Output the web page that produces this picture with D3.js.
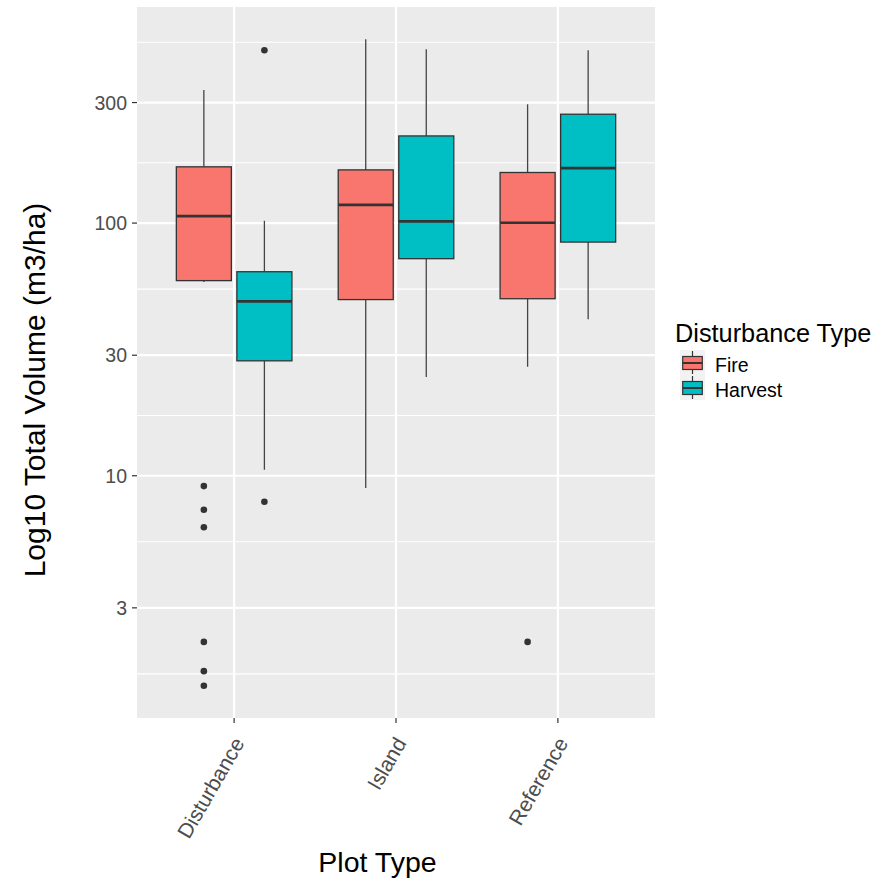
<!DOCTYPE html>
<html>
<head>
<meta charset="utf-8">
<script src="https://cdn.jsdelivr.net/npm/d3@7"></script>
<style>
  html, body { margin: 0; padding: 0; background: #fff; }
  svg { display: block; font-family: "Liberation Sans", Arial, Helvetica, sans-serif; }
</style>
</head>
<body>
<svg id="chart" width="884" height="886"></svg>
<script>
// Categories and groups
const plotTypes = ["Disturbance", "Island", "Reference"];
const disturbanceTypes = ["Fire", "Harvest"];
const groupColors = ["#F8766D", "#00BFC4"];

// Box statistics per plot type: [lower whisker, Q1, median, Q3, upper whisker]
const fireStats = [
  [58.4, 59.2, 106.6, 167.0, 336.5],
  [8.94, 49.8, 118.1, 162.4, 533.8],
  [27.0, 50.2, 100.3, 158.6, 295.3]
];
const harvestStats = [
  [10.56, 28.5, 49.0, 64.2, 102.1],
  [24.6, 72.3, 101.6, 221.3, 487.3],
  [41.6, 84.1, 165.0, 269.7, 483.0]
];

// Outlying observations per plot type
const fireOutliers = [
  [9.1, 7.34, 6.25, 2.2, 1.685, 1.476],
  [],
  [2.2]
];
const harvestOutliers = [
  [483, 7.89],
  [],
  []
];

// Axis breaks
const yTicks = [3, 10, 30, 100, 300];

const svg = d3.select("#chart");
const panel = { left: 137, right: 655, top: 7, bottom: 718 };

// Gather all values to set the log-scale extent (5% padding in log space)
const allVals = [];
[fireStats, harvestStats].forEach(s => s.forEach(r => allVals.push(...r)));
[fireOutliers, harvestOutliers].forEach(s => s.forEach(r => allVals.push(...r)));
const lmin = Math.log10(d3.min(allVals)), lmax = Math.log10(d3.max(allVals));
const pad = (lmax - lmin) * 0.05;
const y = d3.scaleLog()
  .domain([Math.pow(10, lmin - pad), Math.pow(10, lmax + pad)])
  .range([panel.bottom, panel.top]);

// Discrete x positions 1..n with 0.6 expansion on each side
const x = d3.scaleLinear()
  .domain([0.4, plotTypes.length + 0.6])
  .range([panel.left, panel.right]);

const dodge = 0.187;   // group offset from category centre
const boxW = 0.34;     // box width in category units

// Panel background
svg.append("rect")
  .attr("x", panel.left).attr("y", panel.top)
  .attr("width", panel.right - panel.left).attr("height", panel.bottom - panel.top)
  .attr("fill", "#EBEBEB");

// Minor grid: midpoints between major breaks in log space, extended by one step
const lt = yTicks.map(Math.log10);
const minorL = [];
for (let i = 0; i < lt.length - 1; i++) minorL.push((lt[i] + lt[i + 1]) / 2);
minorL.unshift(lt[0] - (lt[1] - lt[0]) / 2);
minorL.push(lt[lt.length - 1] + (lt[lt.length - 1] - lt[lt.length - 2]) / 2);
const grid = svg.append("g");
minorL.map(v => Math.pow(10, v))
  .filter(v => y(v) >= panel.top && y(v) <= panel.bottom)
  .forEach(v => {
    grid.append("line")
      .attr("x1", panel.left).attr("x2", panel.right)
      .attr("y1", y(v)).attr("y2", y(v))
      .attr("stroke", "#fff").attr("stroke-width", 1.1);
  });
yTicks.forEach(v => {
  grid.append("line")
    .attr("x1", panel.left).attr("x2", panel.right)
    .attr("y1", y(v)).attr("y2", y(v))
    .attr("stroke", "#fff").attr("stroke-width", 2.2);
});
plotTypes.forEach((p, i) => {
  grid.append("line")
    .attr("x1", x(i + 1)).attr("x2", x(i + 1))
    .attr("y1", panel.top).attr("y2", panel.bottom)
    .attr("stroke", "#fff").attr("stroke-width", 2.2);
});

// Boxplots
const boxes = svg.append("g");
const groups = [
  { stats: fireStats, outliers: fireOutliers, color: groupColors[0], off: -dodge },
  { stats: harvestStats, outliers: harvestOutliers, color: groupColors[1], off: dodge }
];
groups.forEach(g => {
  g.stats.forEach((s, i) => {
    const cx = x(i + 1 + g.off);
    const x0 = x(i + 1 + g.off - boxW / 2), x1 = x(i + 1 + g.off + boxW / 2);
    const [lo, q1, med, q3, hi] = s;
    // whiskers
    boxes.append("line")
      .attr("x1", cx).attr("x2", cx).attr("y1", y(q3)).attr("y2", y(hi))
      .attr("stroke", "#444").attr("stroke-width", 1.3);
    boxes.append("line")
      .attr("x1", cx).attr("x2", cx).attr("y1", y(q1)).attr("y2", y(lo))
      .attr("stroke", "#444").attr("stroke-width", 1.3);
    // box
    boxes.append("rect")
      .attr("x", x0).attr("y", y(q3))
      .attr("width", x1 - x0).attr("height", y(q1) - y(q3))
      .attr("fill", g.color).attr("stroke", "#333").attr("stroke-width", 1.3);
    // median
    boxes.append("line")
      .attr("x1", x0).attr("x2", x1).attr("y1", y(med)).attr("y2", y(med))
      .attr("stroke", "#333").attr("stroke-width", 2.6);
    // outliers
    g.outliers[i].forEach(v => {
      boxes.append("circle")
        .attr("cx", cx).attr("cy", y(v)).attr("r", 3.3)
        .attr("fill", "#333");
    });
  });
});

// Y axis ticks and labels
const yAxis = svg.append("g");
yTicks.forEach(v => {
  yAxis.append("line")
    .attr("x1", panel.left - 5).attr("x2", panel.left)
    .attr("y1", y(v)).attr("y2", y(v))
    .attr("stroke", "#333").attr("stroke-width", 1.2);
  yAxis.append("text")
    .attr("x", panel.left - 10).attr("y", y(v))
    .attr("dy", "0.36em")
    .attr("text-anchor", "end")
    .attr("font-size", 19.5).attr("fill", "#4D4D4D")
    .text(d3.format("d")(v));
});

// X axis ticks and rotated labels
const xAxis = svg.append("g");
plotTypes.forEach((p, i) => {
  const px = x(i + 1);
  xAxis.append("line")
    .attr("x1", px).attr("x2", px)
    .attr("y1", panel.bottom).attr("y2", panel.bottom + 5)
    .attr("stroke", "#333").attr("stroke-width", 1.2);
  xAxis.append("text")
    .attr("transform", `translate(${px + 11},${panel.bottom + 25}) rotate(-60)`)
    .attr("text-anchor", "end")
    .attr("font-size", 21).attr("fill", "#4D4D4D")
    .text(p);
});

// Axis titles
svg.append("text")
  .attr("transform", "translate(45,390) rotate(-90)")
  .attr("text-anchor", "middle")
  .attr("font-size", 30).attr("fill", "#000")
  .text("Log10 Total Volume (m3/ha)");
svg.append("text")
  .attr("x", 377.5).attr("y", 872)
  .attr("text-anchor", "middle")
  .attr("font-size", 28.5).attr("fill", "#000")
  .text("Plot Type");

// Legend
const legend = svg.append("g");
legend.append("text")
  .attr("x", 675).attr("y", 342)
  .attr("font-size", 25.3).attr("fill", "#000")
  .text("Disturbance Type");
disturbanceTypes.forEach((d, i) => {
  const ky = 350 + i * 25;
  legend.append("rect")
    .attr("x", 680).attr("y", ky).attr("width", 25).attr("height", 25)
    .attr("fill", "#F2F2F2");
  legend.append("line")
    .attr("x1", 692.5).attr("x2", 692.5).attr("y1", ky + 1).attr("y2", ky + 24)
    .attr("stroke", "#333").attr("stroke-width", 1.2);
  legend.append("rect")
    .attr("x", 682.7).attr("y", ky + 6.5).attr("width", 19.6).attr("height", 13)
    .attr("fill", groupColors[i]).attr("stroke", "#333").attr("stroke-width", 1.2);
  legend.append("line")
    .attr("x1", 682.7).attr("x2", 702.3).attr("y1", ky + 13).attr("y2", ky + 13)
    .attr("stroke", "#333").attr("stroke-width", 2);
  legend.append("text")
    .attr("x", 715).attr("y", ky + 21.5)
    .attr("font-size", 19.5).attr("fill", "#000")
    .text(d);
});
</script>
</body>
</html>
